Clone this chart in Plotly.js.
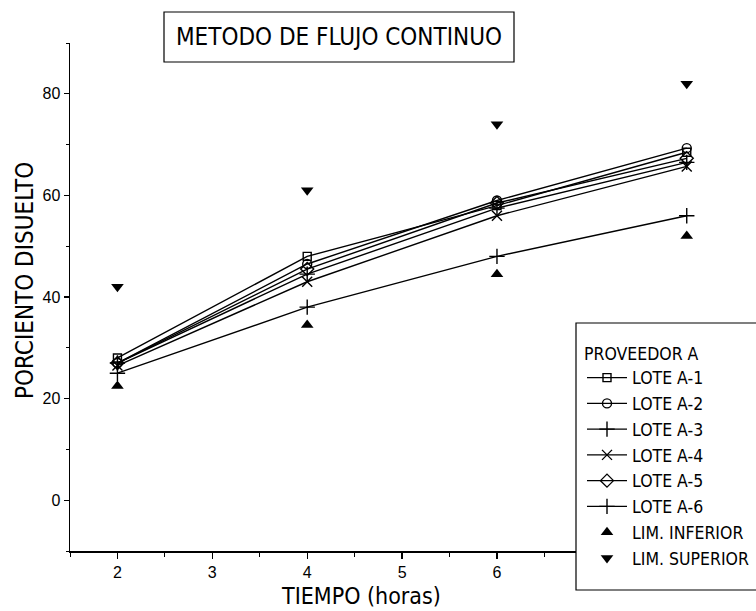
<!DOCTYPE html>
<html>
<head>
<meta charset="utf-8">
<script src="https://cdn.plot.ly/plotly-3.0.1.min.js"></script>
<style>html,body{margin:0;padding:0;background:#fff;}#chart{width:756px;height:611px;}</style>
</head>
<body>
<div id="chart"></div>
<script>
// ---- data ----
const hours = [2, 4, 6, 8];
const loteA1 = [28, 48, 58, 68.5];
const loteA2 = [27, 46.5, 59, 69.3];
const loteA3 = [27, 44.5, 57.5, 66.5];
const loteA4 = [26.5, 43, 56, 65.7];
const loteA5 = [27, 45.5, 58.5, 67.3];
const loteA6 = [25, 38, 48, 56];
const limInferior = [22.5, 34.5, 44.5, 52];
const limSuperior = [42, 61, 74, 82];
const seriesNames = ["LOTE A-1", "LOTE A-2", "LOTE A-3", "LOTE A-4", "LOTE A-5", "LOTE A-6"];
const limNames = ["LIM. INFERIOR", "LIM. SUPERIOR"];
const legendTitle = "PROVEEDOR A";
const chartTitle = "METODO DE FLUJO CONTINUO";
const xTitle = "TIEMPO (horas)";
const yTitle = "PORCIENTO DISUELTO";
const xTickVals = [2, 3, 4, 5, 6, 7, 8];
const xTickText = ["2", "3", "4", "5", "6", "", ""];   // 7 and 8 sit under the legend box

const narrow = "'Liberation Sans Narrow', 'DejaVu Sans Condensed', Arial, sans-serif";
const regular = "'Liberation Sans', Arial, sans-serif";

const seriesValues = [loteA1, loteA2, loteA3, loteA4, loteA5, loteA6];
const symbols = ["square-open", "circle-open", "cross-thin-open", "x-thin-open", "diamond-open", "cross-thin-open"];
const sizes = [8, 9, 11, 10, 10, 11];

const traces = seriesValues.map((vals, i) => ({
  type: "scatter", mode: "lines+markers", x: hours, y: vals, name: seriesNames[i],
  line: {color: "#000", width: 1.4},
  marker: {symbol: symbols[i], size: sizes[i], color: "#000", line: {color: "#000", width: 1.4}},
  cliponaxis: false
}));
traces.push({
  type: "scatter", mode: "markers", x: hours, y: limInferior, name: limNames[0],
  marker: {symbol: "triangle-up", size: 11, color: "#000"}, cliponaxis: false
});
traces.push({
  type: "scatter", mode: "markers", x: hours, y: limSuperior, name: limNames[1],
  marker: {symbol: "triangle-down", size: 11, color: "#000"}, cliponaxis: false
});

const W = 756, H = 611, L = 70, R = 0, T = 43, B = 60;
const pw = W - L - R, ph = H - T - B;
const px = v => (v - L) / pw;          // pixel x -> paper x
const py = v => (H - B - v) / ph;      // pixel y -> paper y

const layout = {
  width: W, height: H,
  margin: {l: L, r: R, t: T, b: B, pad: 0, autoexpand: false},
  paper_bgcolor: "#fff", plot_bgcolor: "#fff",
  showlegend: true,
  title: {
    text: chartTitle, font: {family: narrow, size: 24, color: "#000"},
    xref: "container", yref: "container", x: 339 / W, xanchor: "center",
    y: 1 - 37 / H, yanchor: "middle"
  },
  xaxis: {
    range: [1.5, 8.73], tickmode: "array", tickvals: xTickVals, ticktext: xTickText,
    ticks: "outside", ticklen: 6, tickwidth: 1.2, tickcolor: "#000",
    minor: {dtick: 0.5, tick0: 0, ticks: "outside", ticklen: 4, tickwidth: 1, tickcolor: "#000"},
    showline: true, linecolor: "#000", linewidth: 1.5, showgrid: false, zeroline: false,
    tickfont: {family: regular, size: 16, color: "#000"}
  },
  yaxis: {
    range: [-10, 90], tick0: 0, dtick: 20, ticks: "outside", ticklen: 5, tickwidth: 1.2, tickcolor: "#000",
    minor: {dtick: 10, ticks: "outside", ticklen: 3, tickwidth: 1, tickcolor: "#000"},
    showline: true, linecolor: "#000", linewidth: 1.5, showgrid: false, zeroline: false,
    tickfont: {family: regular, size: 16, color: "#000"}
  },
  legend: {
    x: px(582), y: py(337), xanchor: "left", yanchor: "top",
    bgcolor: "rgba(0,0,0,0)", borderwidth: 0,
    font: {family: narrow, size: 17.5, color: "#000"},
    itemwidth: 40, tracegroupgap: 0,
    title: {text: legendTitle, font: {family: narrow, size: 17.5, color: "#000"}}
  },
  shapes: [
    {type: "rect", xref: "paper", yref: "paper", x0: px(164), x1: px(514), y0: py(62), y1: py(12),
     line: {color: "#000", width: 1.2}, fillcolor: "rgba(0,0,0,0)", layer: "above"},
    {type: "rect", xref: "paper", yref: "paper", x0: px(576), x1: px(762), y0: py(590), y1: py(323),
     line: {color: "#000", width: 1.2}, fillcolor: "#fff", layer: "above"}
  ],
  annotations: [
    {text: xTitle, xref: "paper", yref: "paper", x: px(361), y: py(596), xanchor: "center", yanchor: "middle",
     showarrow: false, font: {family: narrow, size: 23, color: "#000"}},
    {text: yTitle, xref: "paper", yref: "paper", x: px(25), y: py(281), xanchor: "center", yanchor: "middle",
     textangle: -90, showarrow: false, font: {family: narrow, size: 24, color: "#000"}}
  ]
};

Plotly.newPlot("chart", traces, layout, {displayModeBar: false, staticPlot: true});
</script>
</body>
</html>
